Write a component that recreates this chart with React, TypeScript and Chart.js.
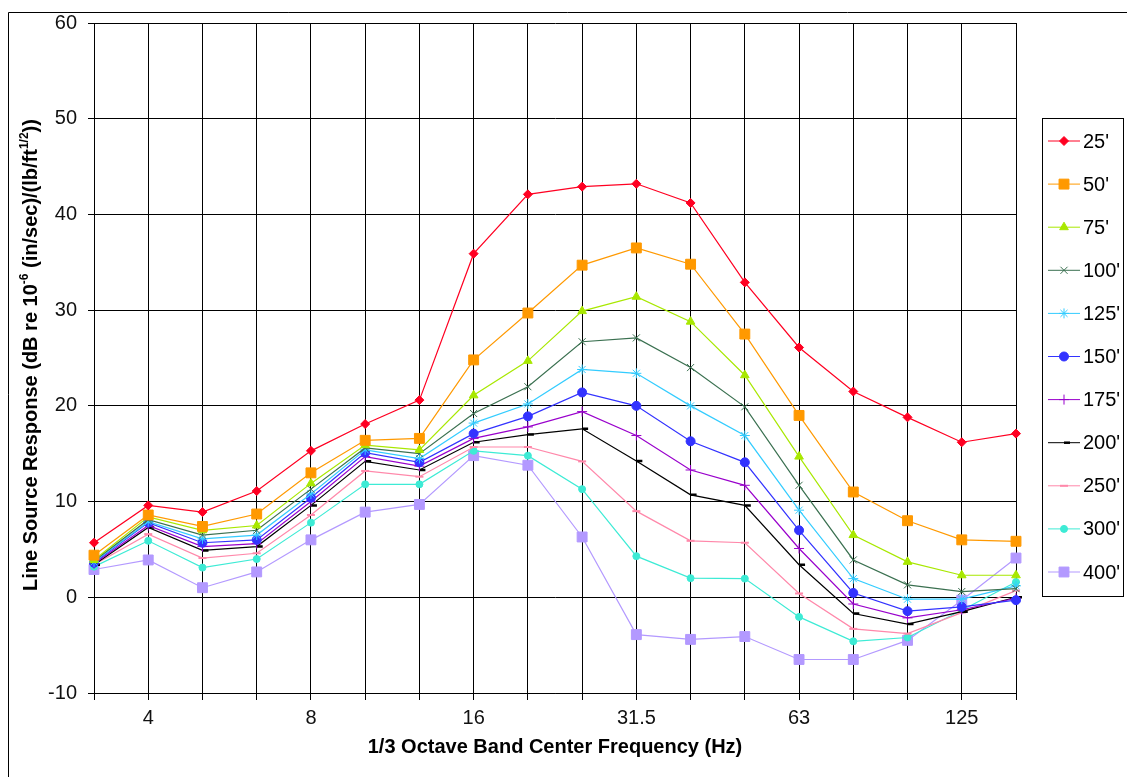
import React, { useEffect, useRef } from 'react';
import { Chart, registerables } from 'chart.js';
import { drawPoint } from 'chart.js/helpers';

Chart.register(...registerables);

const frequencies = ['3.15', '4', '5', '6.3', '8', '10', '12.5', '16', '20', '25', '31.5', '40', '50', '63', '80', '100', '125', '160'];
const labeledTicks = ['4', '8', '16', '31.5', '63', '125'];
const yTicks = [-10, 0, 10, 20, 30, 40, 50, 60];

const seriesNames = ["25'", "50'", "75'", "100'", "125'", "150'", "175'", "200'", "250'", "300'", "400'"];
const d25 = [5.7, 9.6, 8.9, 11.1, 15.3, 18.1, 20.6, 35.9, 42.1, 42.9, 43.2, 41.2, 32.9, 26.1, 21.5, 18.8, 16.2, 17.1];
const d50 = [4.4, 8.6, 7.4, 8.7, 13.0, 16.4, 16.6, 24.8, 29.7, 34.7, 36.5, 34.8, 27.5, 19.0, 11.0, 8.0, 6.0, 5.85];
const d75 = [3.9, 8.4, 7.0, 7.5, 11.9, 15.9, 15.4, 21.1, 24.7, 29.9, 31.4, 28.8, 23.2, 14.7, 6.5, 3.7, 2.3, 2.3];
const d100 = [3.8, 8.1, 6.5, 7.0, 11.3, 15.6, 15.0, 19.2, 22.0, 26.7, 27.1, 24.0, 19.9, 11.7, 3.9, 1.3, 0.6, 0.9];
const d125 = [3.7, 7.9, 6.1, 6.5, 10.8, 15.4, 14.5, 18.2, 20.2, 23.8, 23.4, 20.0, 16.9, 9.1, 1.95, -0.2, -0.2, 1.2];
const d150 = [3.6, 7.8, 5.7, 6.0, 10.4, 15.1, 14.1, 17.1, 18.9, 21.4, 20.0, 16.3, 14.1, 7.0, 0.45, -1.45, -1.0, -0.3];
const d175 = [3.5, 7.5, 5.3, 5.6, 10.0, 14.7, 13.7, 16.6, 17.8, 19.4, 16.9, 13.3, 11.7, 5.1, -0.7, -2.15, -1.3, -0.1];
const d200 = [3.4, 7.3, 4.9, 5.3, 9.6, 14.2, 13.3, 16.2, 17.0, 17.6, 14.25, 10.7, 9.6, 3.4, -1.7, -2.8, -1.5, 0.0];
const d250 = [3.4, 6.6, 4.1, 4.6, 8.6, 13.2, 12.6, 15.7, 15.7, 14.2, 9.0, 5.9, 5.7, 0.4, -3.3, -3.8, -1.6, 0.7];
const d300 = [3.2, 5.9, 3.1, 4.0, 7.8, 11.8, 11.8, 15.3, 14.8, 11.3, 4.3, 2.0, 1.95, -2.05, -4.6, -4.2, -1.35, 1.6];
const d400 = [2.9, 3.9, 1.0, 2.65, 6.0, 8.9, 9.7, 14.8, 13.8, 6.3, -3.9, -4.4, -4.1, -6.5, -6.5, -4.5, -0.3, 4.1];

const seriesData = [d25, d50, d75, d100, d125, d150, d175, d200, d250, d300, d400];
const seriesColors = ['#FF0022', '#FF9900', '#A8E800', '#3A7050', '#33CCFF', '#3333FF', '#9900CC', '#000000', '#FF88AA', '#3DEBD5', '#B399FF'];
const seriesStyles = ['rectRot', 'rect', 'triangle', 'crossRot', 'star', 'circle', 'cross', 'dash', 'line', 'circle', 'rect'];
const seriesRadius = [4.5, 7, 5, 5, 5, 4.5, 5, 6, 4, 3.5, 7];
const seriesPointBorder = [1, 1, 1, 1, 1, 1, 1, 2.5, 2, 1, 1];

const xTitle = '1/3 Octave Band Center Frequency (Hz)';
const yTitleParts = [
  { t: 'Line Source Response (dB re 10', sup: false },
  { t: '-6', sup: true },
  { t: ' (in/sec)/(lb/ft', sup: false },
  { t: '1/2', sup: true },
  { t: '))', sup: false },
];

const FONT = '"Liberation Sans", Arial, sans-serif';

const decorPlugin = {
  id: 'decor',
  afterDraw(chart: any) {
    const ctx = chart.ctx as CanvasRenderingContext2D;
    ctx.save();
    // outer frame
    ctx.strokeStyle = '#000';
    ctx.lineWidth = 1;
    ctx.beginPath();
    ctx.moveTo(8.5, 777);
    ctx.lineTo(8.5, 12.5);
    ctx.lineTo(1127, 12.5);
    ctx.stroke();

    // x title
    ctx.fillStyle = '#000';
    ctx.font = 'bold 20px ' + FONT;
    ctx.textAlign = 'center';
    ctx.textBaseline = 'middle';
    const area = chart.chartArea;
    ctx.fillText(xTitle, (area.left + area.right) / 2, 747);

    // y title with superscripts
    const normalFont = 'bold 20px ' + FONT;
    const supFont = 'bold 12px ' + FONT;
    let total = 0;
    const widths = yTitleParts.map((p) => {
      ctx.font = p.sup ? supFont : normalFont;
      const w = ctx.measureText(p.t).width;
      total += w;
      return w;
    });
    ctx.translate(30, 355);
    ctx.rotate(-Math.PI / 2);
    ctx.textAlign = 'left';
    ctx.textBaseline = 'alphabetic';
    let x = -total / 2;
    yTitleParts.forEach((p, i) => {
      ctx.font = p.sup ? supFont : normalFont;
      ctx.fillText(p.t, x, p.sup ? -2 : 7);
      x += widths[i];
    });
    ctx.setTransform(1, 0, 0, 1, 0, 0);

    // legend
    const lx = 1042.5, ly = 118.5, lw = 81, lh = 478;
    ctx.fillStyle = '#fff';
    ctx.fillRect(lx, ly, lw, lh);
    ctx.strokeStyle = '#000';
    ctx.lineWidth = 1;
    ctx.strokeRect(lx, ly, lw, lh);
    seriesNames.forEach((name, i) => {
      const y = 141 + i * 43.1;
      ctx.strokeStyle = seriesColors[i];
      ctx.lineWidth = 1;
      ctx.beginPath();
      ctx.moveTo(1048, y);
      ctx.lineTo(1080, y);
      ctx.stroke();
      ctx.fillStyle = seriesColors[i];
      ctx.strokeStyle = seriesColors[i];
      ctx.lineWidth = seriesPointBorder[i];
      drawPoint(ctx, { pointStyle: seriesStyles[i], radius: seriesRadius[i], rotation: 0, borderWidth: seriesPointBorder[i] } as any, 1064, y);
      ctx.fillStyle = '#000';
      ctx.font = '20px ' + FONT;
      ctx.textAlign = 'left';
      ctx.textBaseline = 'middle';
      ctx.fillText(name, 1083, y + 1);
    });
    ctx.restore();
  },
};

export default function App() {
  const canvasRef = useRef<HTMLCanvasElement | null>(null);

  useEffect(() => {
    if (!canvasRef.current) return;
    const chart = new Chart(canvasRef.current, {
      type: 'line',
      data: {
        labels: frequencies,
        datasets: seriesNames.map((name, i) => ({
          label: name,
          data: seriesData[i],
          borderColor: seriesColors[i],
          backgroundColor: seriesColors[i],
          pointBackgroundColor: seriesColors[i],
          pointBorderColor: seriesColors[i],
          pointStyle: seriesStyles[i] as any,
          pointRadius: seriesRadius[i],
          pointBorderWidth: seriesPointBorder[i],
          borderWidth: 1.2,
          tension: 0,
          fill: false,
        })),
      },
      options: {
        responsive: false,
        animation: false,
        maintainAspectRatio: false,
        layout: { padding: { left: 0, top: 23, right: 111, bottom: 0 } },
        plugins: {
          legend: { display: false },
          tooltip: { enabled: false },
          title: { display: false },
        },
        scales: {
          x: {
            type: 'category',
            offset: false,
            grid: { color: '#000', lineWidth: 1, drawTicks: true, tickLength: 7, tickColor: '#000' },
            border: { color: '#000', width: 1 },
            ticks: {
              autoSkip: false,
              maxRotation: 0,
              padding: 6,
              color: '#111',
              font: { family: FONT, size: 20 },
              callback: (_v: any, idx: number) => (labeledTicks.includes(frequencies[idx]) ? frequencies[idx] : ''),
            },
            afterFit: (scale: any) => { scale.height = 84; },
          },
          y: {
            min: -10,
            max: 60,
            afterBuildTicks: (scale: any) => { scale.ticks = yTicks.map((v) => ({ value: v })); },
            grid: { color: '#000', lineWidth: 1, drawTicks: true, tickLength: 6, tickColor: '#000' },
            border: { color: '#000', width: 1 },
            ticks: {
              padding: 11,
              color: '#111',
              font: { family: FONT, size: 20 },
            },
            afterFit: (scale: any) => { scale.width = 94; },
          },
        },
      },
      plugins: [decorPlugin],
    });
    return () => chart.destroy();
  }, []);

  return (
    <div style={{ position: 'absolute', left: 0, top: 0, width: 1127, height: 777, background: '#fff' }}>
      <canvas ref={canvasRef} width={1127} height={777} style={{ display: 'block', width: 1127, height: 777 }} />
    </div>
  );
}
